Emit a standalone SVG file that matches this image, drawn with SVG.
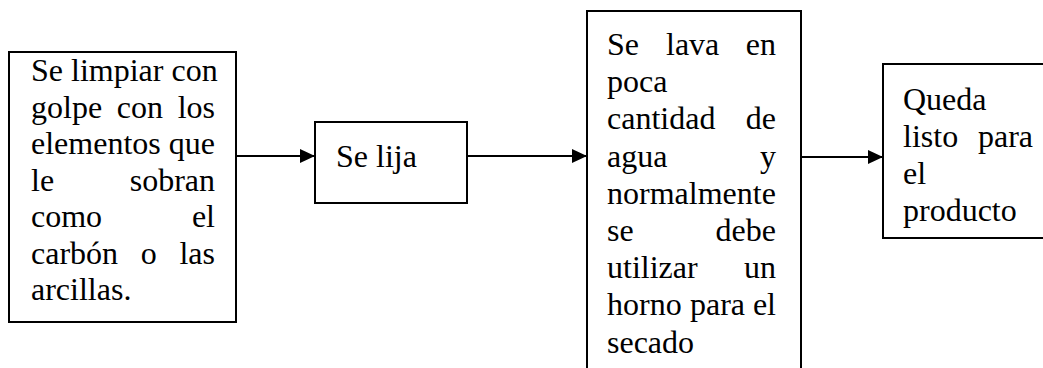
<svg xmlns="http://www.w3.org/2000/svg" width="1043" height="368" viewBox="0 0 1043 368">
<style>
.box{fill:#fff;stroke:#000;stroke-width:2}
.t{font-family:"Liberation Serif","Times New Roman",serif;font-size:32px;fill:#000}
.e{text-anchor:end}
.c{stroke:#000;stroke-width:2;fill:none}
</style>
<defs>
<marker id="ah" markerUnits="userSpaceOnUse" markerWidth="16" markerHeight="16" refX="15" refY="7" orient="auto">
<path d="M0,0 L15,7 L0,14 Z" fill="#000"/>
</marker>
</defs>
<g id="connectors">
<line class="c" x1="236" y1="156" x2="315" y2="156" marker-end="url(#ah)"/>
<line class="c" x1="467" y1="156" x2="587" y2="156" marker-end="url(#ah)"/>
<line class="c" x1="801" y1="157" x2="883" y2="157" marker-end="url(#ah)"/>
</g>
<g id="node1">
<rect class="box" x="9" y="52" width="227" height="270"/>
<text class="t" x="31" y="81">Se limpiar con</text>
<text class="t" x="31" y="117.5">golpe</text><text class="t" x="116.8" y="117.5">con</text><text class="t e" x="215" y="117.5">los</text>
<text class="t" x="31" y="154">elementos</text><text class="t e" x="215" y="154">que</text>
<text class="t" x="31" y="190.5">le</text><text class="t e" x="215" y="190.5">sobran</text>
<text class="t" x="31" y="227">como</text><text class="t e" x="215" y="227">el</text>
<text class="t" x="31" y="263.5">carbón</text><text class="t" x="140.8" y="263.5">o</text><text class="t e" x="215" y="263.5">las</text>
<text class="t" x="31" y="300">arcillas.</text>
</g>
<g id="node2">
<rect class="box" x="315" y="122" width="152" height="81"/>
<text class="t" x="336" y="167">Se lija</text>
</g>
<g id="node3">
<rect class="box" x="587" y="11" width="214" height="370"/>
<text class="t" x="607" y="55">Se</text><text class="t" x="666" y="55">lava</text><text class="t e" x="776" y="55">en</text>
<text class="t" x="607" y="92.2">poca</text>
<text class="t" x="607" y="129.4">cantidad</text><text class="t e" x="776" y="129.4">de</text>
<text class="t" x="607" y="166.6">agua</text><text class="t e" x="776" y="166.6">y</text>
<text class="t" x="607" y="203.8">normalmente</text>
<text class="t" x="607" y="241">se</text><text class="t e" x="776" y="241">debe</text>
<text class="t" x="607" y="278.2">utilizar</text><text class="t e" x="776" y="278.2">un</text>
<text class="t" x="607" y="315.4">horno</text><text class="t" x="690" y="315.4">para</text><text class="t e" x="776" y="315.4">el</text>
<text class="t" x="607" y="352.6">secado</text>
</g>
<g id="node4">
<rect class="box" x="883" y="64" width="180" height="174"/>
<text class="t" x="903" y="110">Queda</text>
<text class="t" x="903" y="147">listo</text><text class="t e" x="1033" y="147">para</text>
<text class="t" x="903" y="184">el</text>
<text class="t" x="903" y="221">producto</text>
</g>
</svg>
